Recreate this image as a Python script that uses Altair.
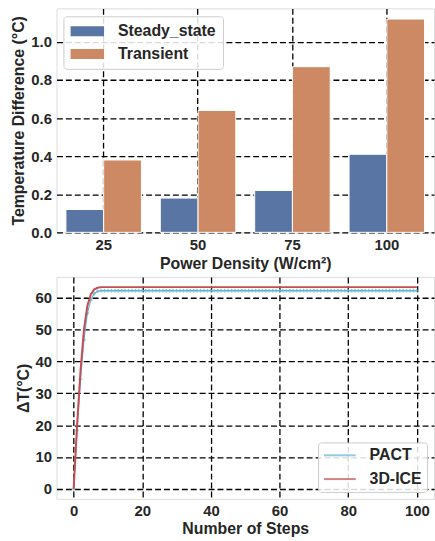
import altair as alt
import pandas as pd

# ---------------- data ----------------
power = ["25", "50", "75", "100"]
steady = [0.12, 0.18, 0.22, 0.41]
transient = [0.38, 0.64, 0.87, 1.12]
bar_series = ["Steady_state", "Transient"]
bar_colors = ["#5975a4", "#cc8963"]

steps = list(range(101))
pact_rise = [0.0, 18.3, 34.4, 46.8, 55.1, 59.3, 61.3, 62.0]
pact_plateau = [62.2] * 93
ice_rise = [0.0, 20.0, 37.0, 50.0, 57.5, 61.0, 62.6, 63.1]
ice_plateau = [63.3] * 93
pact = pact_rise + pact_plateau
ice = ice_rise + ice_plateau
line_series = ["PACT", "3D-ICE"]
line_colors = ["#64b5cd", "#c44e52"]

FONT = "Liberation Sans"
TXT = "#262626"

bar_df = pd.DataFrame(
    [{"power": p, "series": bar_series[0], "value": v} for p, v in zip(power, steady)]
    + [{"power": p, "series": bar_series[1], "value": v} for p, v in zip(power, transient)]
)
pact_df = pd.DataFrame({"step": steps, "value": pact, "series": "PACT"})
ice_df = pd.DataFrame({"step": steps, "value": ice, "series": "3D-ICE"})

grid_kw = dict(grid=True, gridColor="black", gridDash=[6, 3], gridWidth=1.3,
               domain=False, ticks=False, labelFont=FONT, labelFontWeight="bold",
               labelFontSize=15, labelColor=TXT, titleFont=FONT,
               titleFontWeight="bold", titleFontSize=16, titleColor=TXT)

legend_kw = dict(title=None, labelFont=FONT, labelFontWeight="bold", labelFontSize=16,
                 labelColor=TXT, fillColor="rgba(255,255,255,0.85)",
                 strokeColor="#cccccc", cornerRadius=3, clipHeight=16)

# ---------------- top: bars ----------------
bars = alt.Chart(bar_df).mark_bar(stroke="white", strokeWidth=1).encode(
    x=alt.X("power:N", sort=power,
            scale=alt.Scale(paddingInner=0.2, paddingOuter=0.1),
            axis=alt.Axis(title="Power Density (W/cm²)", labelAngle=0, bandPosition=0.5,
                          labelPadding=5, titlePadding=3, **grid_kw)),
    xOffset=alt.XOffset("series:N", sort=bar_series,
                        scale=alt.Scale(paddingInner=0, paddingOuter=0)),
    y=alt.Y("value:Q", scale=alt.Scale(domain=[0, 1.176], nice=False),
            axis=alt.Axis(title="Temperature Difference (°C)", values=[0, 0.2, 0.4, 0.6, 0.8, 1.0],
                          format=".1f", labelPadding=5, titlePadding=4, **grid_kw)),
    color=alt.Color("series:N",
                    scale=alt.Scale(domain=bar_series, range=bar_colors),
                    legend=alt.Legend(orient="none", legendX=7, legendY=8,
                                      symbolType="M-1,-0.3H1V0.3H-1Z", symbolSize=1156,
                                      symbolStrokeWidth=0, labelOffset=14, rowPadding=7,
                                      padding=7, **legend_kw)),
).properties(width=381, height=226)

# ---------------- bottom: lines ----------------
xq = alt.X("step:Q", scale=alt.Scale(domain=[-5, 105], nice=False),
           axis=alt.Axis(title="Number of Steps", values=[0, 20, 40, 60, 80, 100],
                         labelPadding=5, titlePadding=2, **grid_kw))
yq = alt.Y("value:Q", scale=alt.Scale(domain=[-3.17, 66.5], nice=False),
           axis=alt.Axis(title="ΔT(°C)", values=[0, 10, 20, 30, 40, 50, 60],
                         labelPadding=5, titlePadding=4, **grid_kw))
col = alt.Color("series:N", scale=alt.Scale(domain=line_series, range=line_colors),
                legend=alt.Legend(orient="bottom-right", offset=7, symbolType="stroke",
                                  symbolSize=1024, symbolStrokeWidth=2, labelOffset=13,
                                  rowPadding=8, padding=5, **legend_kw))

pact_line = alt.Chart(pact_df).mark_line(strokeWidth=1.2).encode(x=xq, y=yq, color=col)
pact_pts = alt.Chart(pact_df).mark_point(shape="cross", size=14, filled=True).encode(
    x=xq, y=yq, color=col)
ice_line = alt.Chart(ice_df).mark_line(strokeWidth=2).encode(x=xq, y=yq, color=col)

lines = alt.layer(pact_line, pact_pts, ice_line).properties(width=381, height=224)

chart = alt.vconcat(bars, lines, spacing=4).resolve_scale(color="independent").properties(
    padding={"left": 10, "top": 5, "right": 0, "bottom": 0}
).configure_view(stroke="#333333", strokeWidth=1.5).configure(font=FONT)

chart.save("out.html", embed_options={"renderer": "svg", "actions": False})
